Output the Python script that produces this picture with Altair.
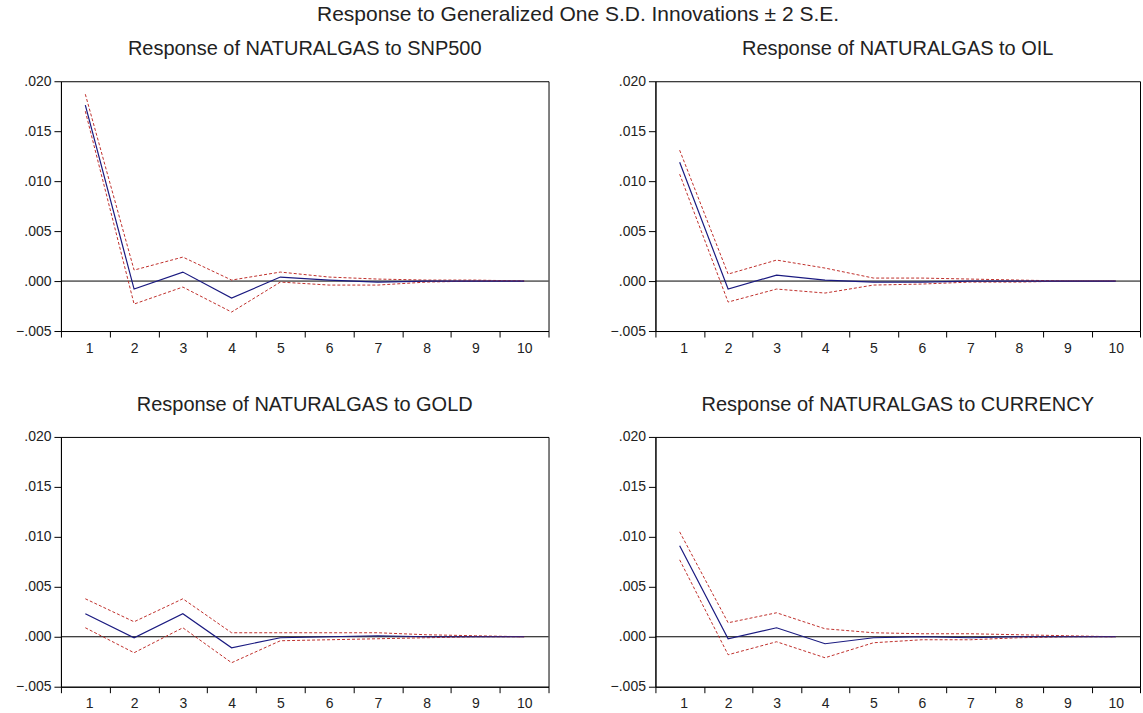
import altair as alt
import pandas as pd

periods = [1, 2, 3, 4, 5, 6, 7, 8, 9, 10]

snp_resp = [0.0176, -0.0008, 0.0009, -0.0017, 0.0004, 0.0001, -0.0001, 0.0000, 0.0000, 0.0000]
snp_upper = [0.0187, 0.0011, 0.0024, 0.0001, 0.0009, 0.0004, 0.0002, 0.0001, 0.0001, 0.0000]
snp_lower = [0.0170, -0.0023, -0.0006, -0.0031, -0.0001, -0.0004, -0.0004, -0.0001, 0.0000, 0.0000]

oil_resp = [0.0119, -0.0008, 0.0006, 0.0001, -0.0001, -0.0001, 0.0000, 0.0000, 0.0000, 0.0000]
oil_upper = [0.0131, 0.0007, 0.0021, 0.0013, 0.0003, 0.0003, 0.0002, 0.0001, 0.0000, 0.0000]
oil_lower = [0.0107, -0.0021, -0.0008, -0.0012, -0.0004, -0.0003, -0.0001, -0.0001, 0.0000, 0.0000]

gold_resp = [0.0023, -0.0001, 0.0023, -0.0011, -0.0001, 0.0000, 0.0001, 0.0000, 0.0000, 0.0000]
gold_upper = [0.0038, 0.0015, 0.0038, 0.0004, 0.0004, 0.0004, 0.0004, 0.0002, 0.0001, 0.0000]
gold_lower = [0.0009, -0.0016, 0.0009, -0.0026, -0.0004, -0.0003, -0.0002, -0.0001, 0.0000, 0.0000]

cur_resp = [0.0091, -0.0002, 0.0009, -0.0007, -0.0001, 0.0000, -0.0001, 0.0000, 0.0000, 0.0000]
cur_upper = [0.0105, 0.0014, 0.0024, 0.0008, 0.0004, 0.0003, 0.0003, 0.0002, 0.0001, 0.0000]
cur_lower = [0.0077, -0.0018, -0.0005, -0.0021, -0.0006, -0.0003, -0.0003, -0.0001, 0.0000, 0.0000]

titles = [
    "Response of NATURALGAS to SNP500",
    "Response of NATURALGAS to OIL",
    "Response of NATURALGAS to GOLD",
    "Response of NATURALGAS to CURRENCY",
]
y_ticks = [-0.005, 0.0, 0.005, 0.010, 0.015, 0.020]
x_tick_positions = [0.5, 1.5, 2.5, 3.5, 4.5, 5.5, 6.5, 7.5, 8.5, 9.5, 10.5]

FONT = "Liberation Sans"
H = 250


def panel(title, resp, upper, lower, W):
    df = pd.DataFrame({"period": periods, "resp": resp, "upper": upper, "lower": lower})
    zero = pd.DataFrame({"x0": [0.5], "x1": [10.5], "y": [0.0]})
    xs = alt.Scale(domain=[0.5, 10.5], nice=False, zero=False)
    ys = alt.Scale(domain=[-0.005, 0.020], nice=False, zero=False)
    xaxis = alt.Axis(
        values=x_tick_positions,
        labelExpr="datum.value < 10 ? format(datum.value + 0.5, 'd') : ''",
        labelOffset=W / 20,
        title=None, grid=False, tickSize=6, labelPadding=4,
    )
    yaxis = alt.Axis(
        values=y_ticks,
        labelExpr="replace(format(datum.value, '.3f'), '0.', '.')",
        title=None, grid=False, tickSize=7, labelPadding=3,
    )
    base = alt.Chart(df)
    x = alt.X("period:Q", scale=xs, axis=xaxis)
    rule = alt.Chart(zero).mark_rule(color="black", strokeWidth=1).encode(
        x=alt.X("x0:Q", scale=xs), x2="x1:Q", y=alt.Y("y:Q", scale=ys)
    )
    up = base.mark_line(color="#c0302c", strokeWidth=1, strokeDash=[3, 2]).encode(
        x=x, y=alt.Y("upper:Q", scale=ys, axis=yaxis)
    )
    lo = base.mark_line(color="#c0302c", strokeWidth=1, strokeDash=[3, 2]).encode(
        x=x, y=alt.Y("lower:Q", scale=ys)
    )
    rs = base.mark_line(color="#1a1a80", strokeWidth=1.2).encode(
        x=x, y=alt.Y("resp:Q", scale=ys)
    )
    return alt.layer(rule, up, lo, rs).properties(
        width=W, height=H,
        title=alt.TitleParams(title, font=FONT, fontSize=20, fontWeight="normal",
                              color="#222222", offset=15),
    )


p1 = panel(titles[0], snp_resp, snp_upper, snp_lower, 488)
p2 = panel(titles[1], oil_resp, oil_upper, oil_lower, 485)
p3 = panel(titles[2], gold_resp, gold_upper, gold_lower, 488)
p4 = panel(titles[3], cur_resp, cur_upper, cur_lower, 485)

chart = alt.vconcat(
    alt.hconcat(p1, p2, spacing=60),
    alt.hconcat(p3, p4, spacing=60),
    spacing=38,
).properties(
    title=alt.TitleParams("Response to Generalized One S.D. Innovations \u00b1 2 S.E.",
                          font=FONT, fontSize=21, fontWeight="normal", color="#222222",
                          anchor="middle", offset=14),
    padding={"left": 15, "top": 3, "right": 2, "bottom": 1},
).configure_view(
    stroke="black", strokeWidth=1
).configure_axis(
    labelFont=FONT, labelFontSize=14, labelColor="#222222",
    domainColor="black", tickColor="black",
)

chart.save("out.html", embed_options={"renderer": "svg", "actions": False})
